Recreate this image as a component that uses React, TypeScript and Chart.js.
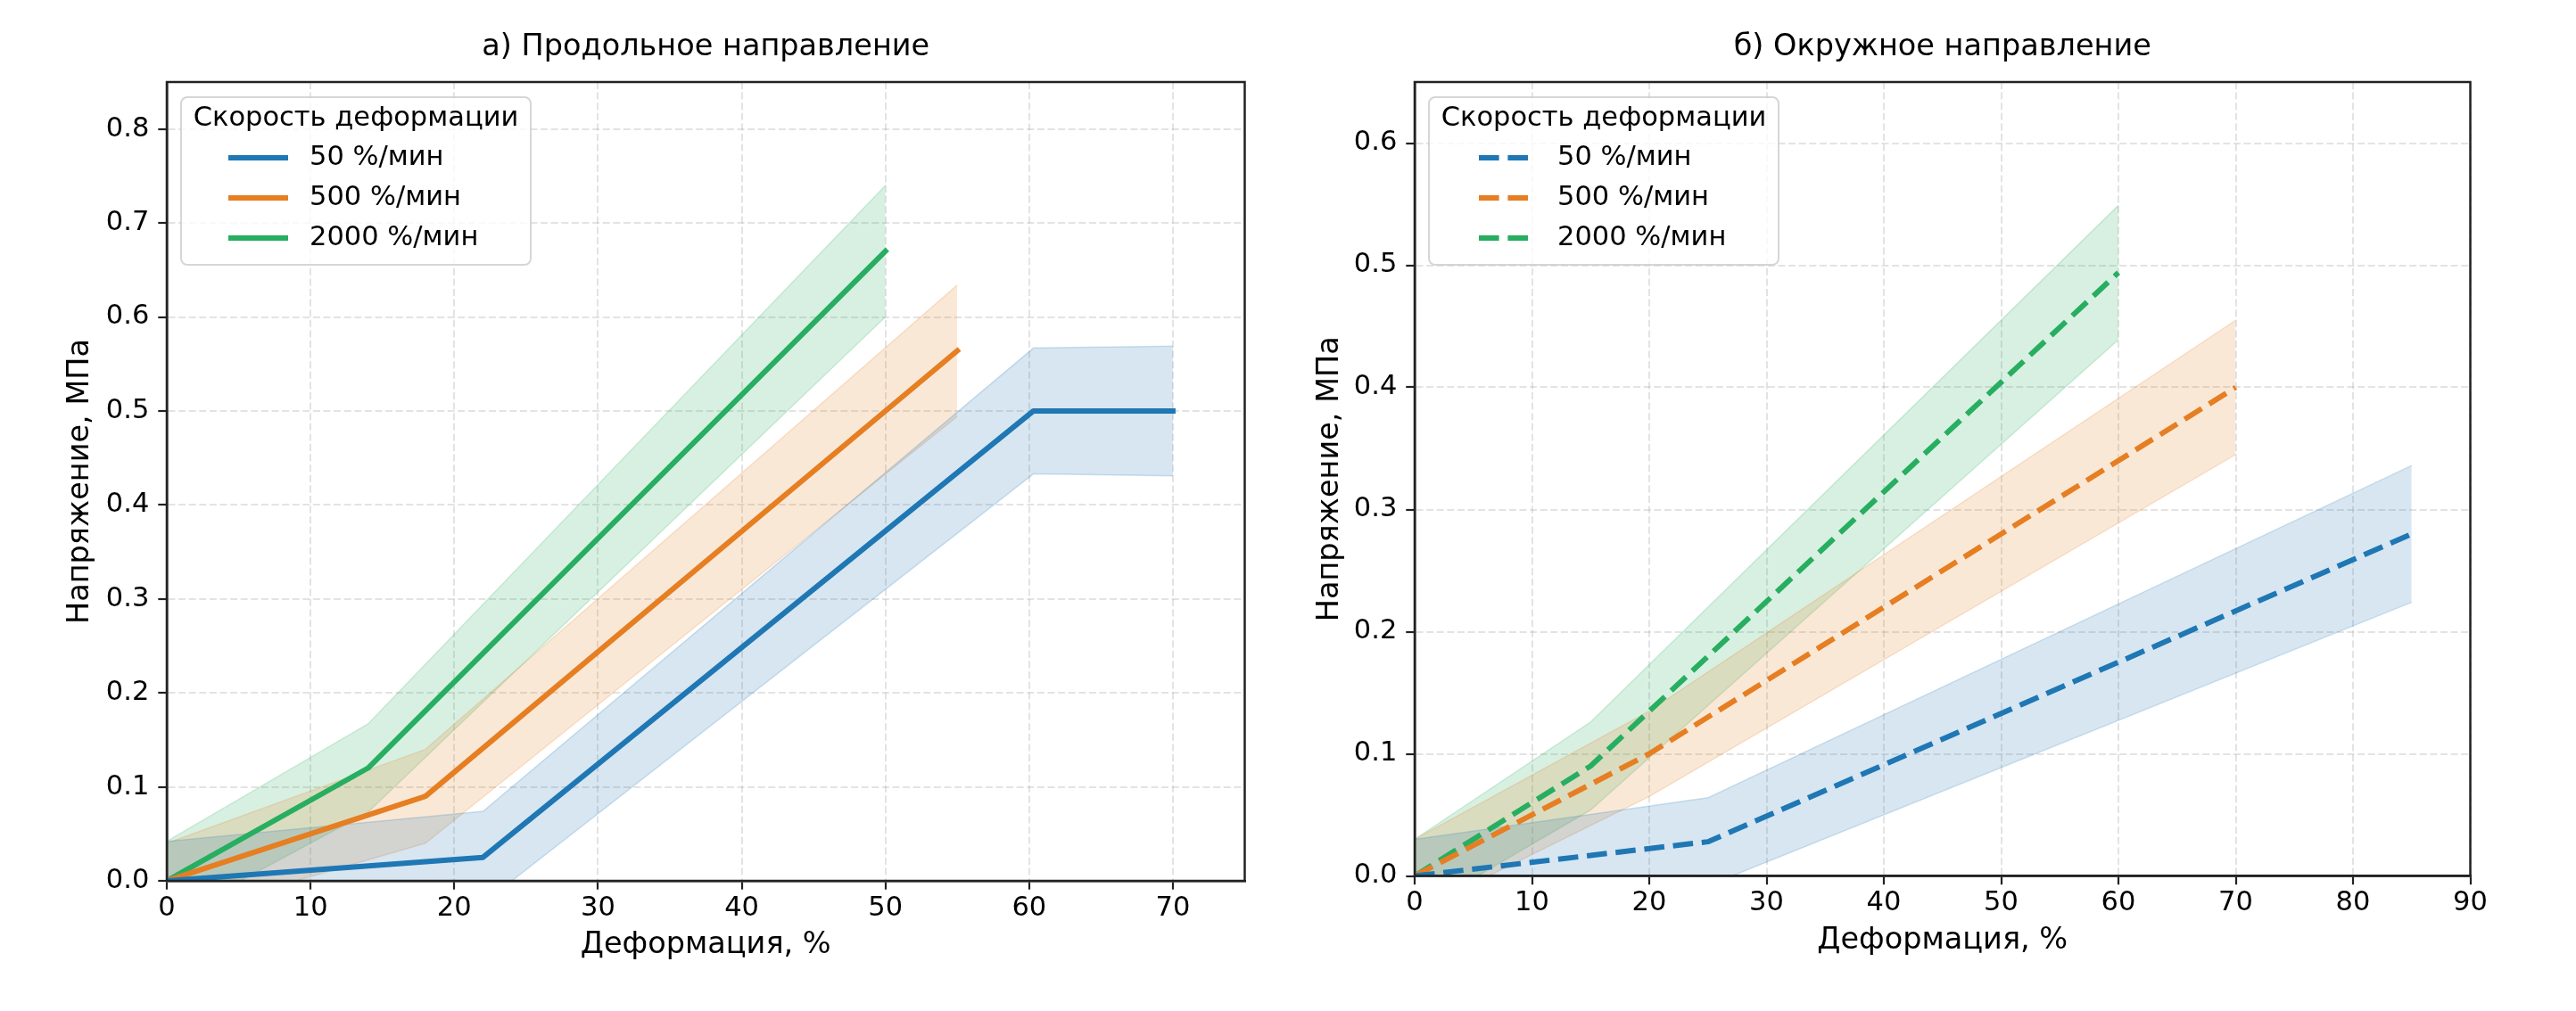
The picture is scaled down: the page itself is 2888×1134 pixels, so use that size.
import React, { useEffect, useRef } from "react";
import { Chart, registerables } from "chart.js";

Chart.register(...registerables);

// ---------- shared labels ----------
const seriesLabels = ["50 %/мин", "500 %/мин", "2000 %/мин"];
const seriesColors = ["#1f77b4", "#e67e22", "#27ae60"];
const legendTitle = "Скорость деформации";
const xAxisTitle = "Деформация, %";
const yAxisTitle = "Напряжение, МПа";

// ---------- panel a: longitudinal ----------
const titleA = "а) Продольное направление";
const strainA50 = [0, 22, 60.3, 70];
const stressA50 = [0, 0.025, 0.5, 0.5];
const sdA50 = [0.042, 0.049, 0.067, 0.069];
const strainA500 = [0, 18, 55];
const stressA500 = [0, 0.09, 0.564];
const sdA500 = [0.04, 0.05, 0.07];
const strainA2000 = [0, 14, 50];
const stressA2000 = [0, 0.12, 0.67];
const sdA2000 = [0.042, 0.047, 0.07];
const xTicksA = [0, 10, 20, 30, 40, 50, 60, 70];
const yTicksA = [0, 0.1, 0.2, 0.3, 0.4, 0.5, 0.6, 0.7, 0.8];
const xMaxA = 75;
const yMaxA = 0.85;

// ---------- panel b: circumferential ----------
const titleB = "б) Окружное направление";
const strainB50 = [0, 25, 85];
const stressB50 = [0, 0.028, 0.28];
const sdB50 = [0.03, 0.036, 0.056];
const strainB500 = [0, 20, 70];
const stressB500 = [0, 0.1, 0.4];
const sdB500 = [0.03, 0.035, 0.055];
const strainB2000 = [0, 15, 60];
const stressB2000 = [0, 0.09, 0.494];
const sdB2000 = [0.03, 0.036, 0.055];
const xTicksB = [0, 10, 20, 30, 40, 50, 60, 70, 80, 90];
const yTicksB = [0, 0.1, 0.2, 0.3, 0.4, 0.5, 0.6];
const xMaxB = 90;
const yMaxB = 0.65;

const FONT = "'DejaVu Sans', sans-serif";
const DASH = [22.6, 9.8];

function rgba(hex: string, a: number) {
  const n = parseInt(hex.slice(1), 16);
  return `rgba(${(n >> 16) & 255},${(n >> 8) & 255},${n & 255},${a})`;
}

type Series = { x: number[]; y: number[]; sd: number[] };

type PanelCfg = {
  title: string;
  series: Series[];
  xTicks: number[];
  yTicks: number[];
  xMax: number;
  yMax: number;
  dashed: boolean;
  padRight: number;
  yAxisW: number;
  xAxisH: number;
  yTitlePad: number;
  xTitlePad: number;
};

const panelA: PanelCfg = {
  title: titleA,
  series: [
    { x: strainA50, y: stressA50, sd: sdA50 },
    { x: strainA500, y: stressA500, sd: sdA500 },
    { x: strainA2000, y: stressA2000, sd: sdA2000 },
  ],
  xTicks: xTicksA,
  yTicks: yTicksA,
  xMax: xMaxA,
  yMax: yMaxA,
  dashed: false,
  padRight: 48.5,
  yAxisW: 187,
  xAxisH: 146,
  yTitlePad: 70,
  xTitlePad: 53.9,
};

const panelB: PanelCfg = {
  title: titleB,
  series: [
    { x: strainB50, y: stressB50, sd: sdB50 },
    { x: strainB500, y: stressB500, sd: sdB500 },
    { x: strainB2000, y: stressB2000, sd: sdB2000 },
  ],
  xTicks: xTicksB,
  yTicks: yTicksB,
  xMax: xMaxB,
  yMax: yMaxB,
  dashed: true,
  padRight: 118.5,
  yAxisW: 142,
  xAxisH: 151.5,
  yTitlePad: 27,
  xTitlePad: 58.4,
};

function buildDatasets(cfg: PanelCfg) {
  const ds: any[] = [];
  cfg.series.forEach((s, i) => {
    const c = seriesColors[i];
    ds.push({
      label: seriesLabels[i] + " upper",
      data: s.x.map((xv, j) => ({ x: xv, y: s.y[j] + s.sd[j] })),
      borderColor: rgba(c, 0.2),
      borderWidth: 1.5,
      pointRadius: 0,
      fill: false,
      order: 1,
      clip: 0,
    });
    ds.push({
      label: seriesLabels[i] + " lower",
      data: s.x.map((xv, j) => ({ x: xv, y: s.y[j] - s.sd[j] })),
      borderColor: rgba(c, 0.2),
      borderWidth: 1.5,
      backgroundColor: rgba(c, 0.18),
      pointRadius: 0,
      fill: "-1",
      order: 1,
      clip: 0,
    });
  });
  cfg.series.forEach((s, i) => {
    const c = seriesColors[i];
    ds.push({
      label: seriesLabels[i],
      data: s.x.map((xv, j) => ({ x: xv, y: s.y[j] })),
      borderColor: c,
      borderWidth: 6,
      borderDash: cfg.dashed ? DASH : [],
      borderCapStyle: cfg.dashed ? "butt" : "square",
      borderJoinStyle: "round",
      pointRadius: 0,
      fill: false,
      order: 0,
      clip: 0,
    });
  });
  return ds;
}

function framePlugin() {
  return {
    id: "frame",
    afterDatasetsDraw(chart: any) {
      const { ctx, chartArea: a } = chart;
      ctx.save();
      ctx.lineWidth = 2.5;
      ctx.strokeStyle = "#222";
      ctx.setLineDash([]);
      ctx.strokeRect(a.left, a.top, a.right - a.left, a.bottom - a.top);
      ctx.restore();
    },
  };
}

function legendPlugin(dashed: boolean) {
  return {
    id: "panelLegend",
    afterDraw(chart: any) {
      const { ctx, chartArea: a } = chart;
      const x = a.left + 16;
      const y = a.top + 17;
      const w = 392;
      const h = 188;
      const r = 7;
      ctx.save();
      ctx.beginPath();
      ctx.moveTo(x + r, y);
      ctx.lineTo(x + w - r, y);
      ctx.arcTo(x + w, y, x + w, y + r, r);
      ctx.lineTo(x + w, y + h - r);
      ctx.arcTo(x + w, y + h, x + w - r, y + h, r);
      ctx.lineTo(x + r, y + h);
      ctx.arcTo(x, y + h, x, y + h - r, r);
      ctx.lineTo(x, y + r);
      ctx.arcTo(x, y, x + r, y, r);
      ctx.closePath();
      ctx.fillStyle = "rgba(255,255,255,0.8)";
      ctx.fill();
      ctx.lineWidth = 2;
      ctx.strokeStyle = "rgba(204,204,204,0.8)";
      ctx.stroke();

      ctx.font = `30.5px ${FONT}`;
      ctx.fillStyle = "#000";
      ctx.textBaseline = "middle";
      ctx.textAlign = "center";
      ctx.fillText(legendTitle, x + w / 2, y + 24);
      ctx.textAlign = "left";
      seriesLabels.forEach((lab, i) => {
        const yy = y + 68 + 45 * i;
        ctx.beginPath();
        ctx.setLineDash(dashed ? DASH : []);
        ctx.lineCap = dashed ? "butt" : "square";
        ctx.lineWidth = 6;
        ctx.strokeStyle = seriesColors[i];
        ctx.moveTo(x + 56, yy);
        ctx.lineTo(x + 117, yy);
        ctx.stroke();
        ctx.setLineDash([]);
        ctx.fillStyle = "#000";
        ctx.fillText(lab, x + 144, yy);
      });
      ctx.restore();
    },
  };
}

function buildConfig(cfg: PanelCfg): any {
  const tickFont = { family: FONT, size: 30.5, lineHeight: 1.2 };
  const titleFont = { family: FONT, size: 33.5, lineHeight: 1.2, weight: "normal" };
  const gridCommon = {
    color: "rgba(176,176,176,0.35)",
    lineWidth: 2,
    drawTicks: true,
    tickLength: 9.7,
    tickColor: "#222",
    tickWidth: 2.2,
    tickBorderDash: [],
  };
  const borderCommon = { display: true, color: "#222", width: 2.5, dash: [8, 3.6] };
  return {
    type: "line",
    data: { datasets: buildDatasets(cfg) },
    options: {
      animation: false,
      responsive: false,
      devicePixelRatio: 1,
      layout: { padding: { left: 0, top: 0, right: cfg.padRight, bottom: 0 } },
      plugins: {
        legend: { display: false },
        tooltip: { enabled: false },
        title: {
          display: true,
          text: cfg.title,
          fullSize: false,
          color: "#000",
          font: titleFont,
          padding: { top: 33.4, bottom: 18.4 },
        },
      },
      scales: {
        x: {
          type: "linear",
          min: 0,
          max: cfg.xMax,
          afterBuildTicks: (s: any) => {
            s.ticks = cfg.xTicks.map((v) => ({ value: v }));
          },
          afterFit: (s: any) => {
            s.height = cfg.xAxisH;
          },
          ticks: {
            font: tickFont,
            color: "#000",
            padding: 3,
            autoSkip: false,
            maxRotation: 0,
            callback: (v: any) => String(v),
          },
          grid: gridCommon,
          border: borderCommon,
          title: {
            display: true,
            text: xAxisTitle,
            color: "#000",
            font: titleFont,
            padding: { top: 0, bottom: cfg.xTitlePad },
          },
        },
        y: {
          type: "linear",
          min: 0,
          max: cfg.yMax,
          afterBuildTicks: (s: any) => {
            s.ticks = cfg.yTicks.map((v) => ({ value: v }));
          },
          afterFit: (s: any) => {
            s.width = cfg.yAxisW;
          },
          ticks: {
            font: tickFont,
            color: "#000",
            padding: 10,
            autoSkip: false,
            callback: (v: any) => Number(v).toFixed(1),
          },
          grid: gridCommon,
          border: borderCommon,
          title: {
            display: true,
            text: yAxisTitle,
            color: "#000",
            font: titleFont,
            padding: { top: cfg.yTitlePad, bottom: 0 },
          },
        },
      },
    },
    plugins: [framePlugin(), legendPlugin(cfg.dashed)],
  };
}

function Panel({ cfg, left }: { cfg: PanelCfg; left: number }) {
  const ref = useRef<HTMLCanvasElement>(null);
  useEffect(() => {
    const chart = new Chart(ref.current as HTMLCanvasElement, buildConfig(cfg));
    return () => chart.destroy();
  }, [cfg]);
  return (
    <canvas
      ref={ref}
      width={1444}
      height={1134}
      style={{ position: "absolute", left, top: 0, width: 1444, height: 1134, display: "block" }}
    />
  );
}

export default function App() {
  return (
    <div
      style={{
        position: "fixed",
        left: 0,
        top: 0,
        width: 2888,
        height: 1134,
        background: "#ffffff",
        overflow: "hidden",
      }}
    >
      <Panel cfg={panelA} left={0} />
      <Panel cfg={panelB} left={1444} />
    </div>
  );
}
